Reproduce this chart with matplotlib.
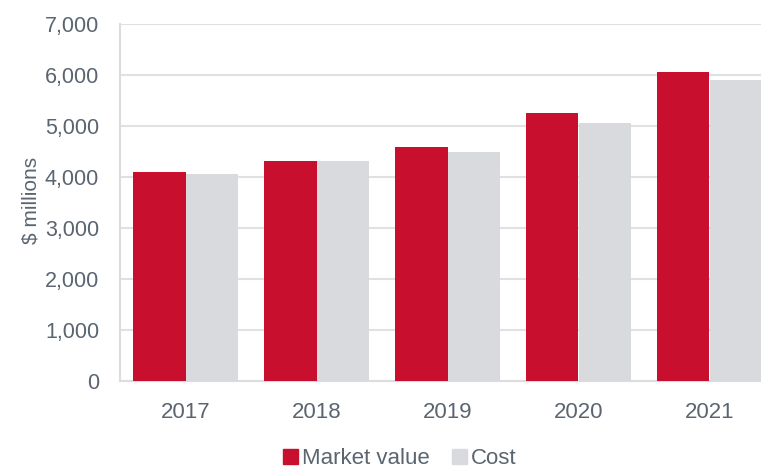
import numpy as np
import matplotlib.pyplot as plt
from matplotlib.patches import Patch

years = ["2017", "2018", "2019", "2020", "2021"]
market_value = [4090, 4320, 4590, 5260, 6055]
cost = [4050, 4310, 4495, 5060, 5900]

red = "#C8102E"
grey = "#D9DADD"
txt = "#5a6570"

plt.rcParams["font.family"] = ["Liberation Sans", "DejaVu Sans"]

fig = plt.figure(figsize=(7.61, 4.68), dpi=100)
# axes run past the right edge, like the reference crop
ax = fig.add_axes([120 / 761, 87 / 468, 655 / 761, 357 / 468])

x = np.arange(len(years))
w = 0.4
ax.bar(x - w / 2, market_value, w, color=red, zorder=3)
ax.bar(x + w / 2, cost, w, color=grey, zorder=3)

ax.set_xlim(-0.5, 4.5)
ax.set_ylim(0, 7000)
ax.set_yticks(np.arange(0, 7001, 1000))
ax.set_yticklabels([f"{v:,}" for v in range(0, 7001, 1000)])
ax.set_xticks(x)
ax.set_xticklabels(years)
ax.tick_params(length=0, colors=txt)
ax.tick_params(axis="y", pad=15, labelsize=15.5)
ax.tick_params(axis="x", pad=15, labelsize=16)

ax.grid(axis="y", color="#e1e1e1", linewidth=1.5, zorder=0)
for s in ["top", "right"]:
    ax.spines[s].set_visible(False)
for s in ["left", "bottom"]:
    ax.spines[s].set_color("#dcdcdc")
    ax.spines[s].set_linewidth(1.5)

fig.text(31 / 761, 268 / 468, "$ millions", rotation=90, ha="center", va="center",
         fontsize=15, color=txt)

handles = [Patch(color=red, label="Market value"), Patch(color=grey, label="Cost")]
fig.legend(handles=handles, loc="center", bbox_to_anchor=(400 / 761, 9 / 468), ncol=2,
           frameon=False, fontsize=16, labelcolor=txt, handlelength=0.65,
           handleheight=0.65, handletextpad=0.2, columnspacing=1.0, borderpad=0)

fig.savefig("out.png", dpi=100)
